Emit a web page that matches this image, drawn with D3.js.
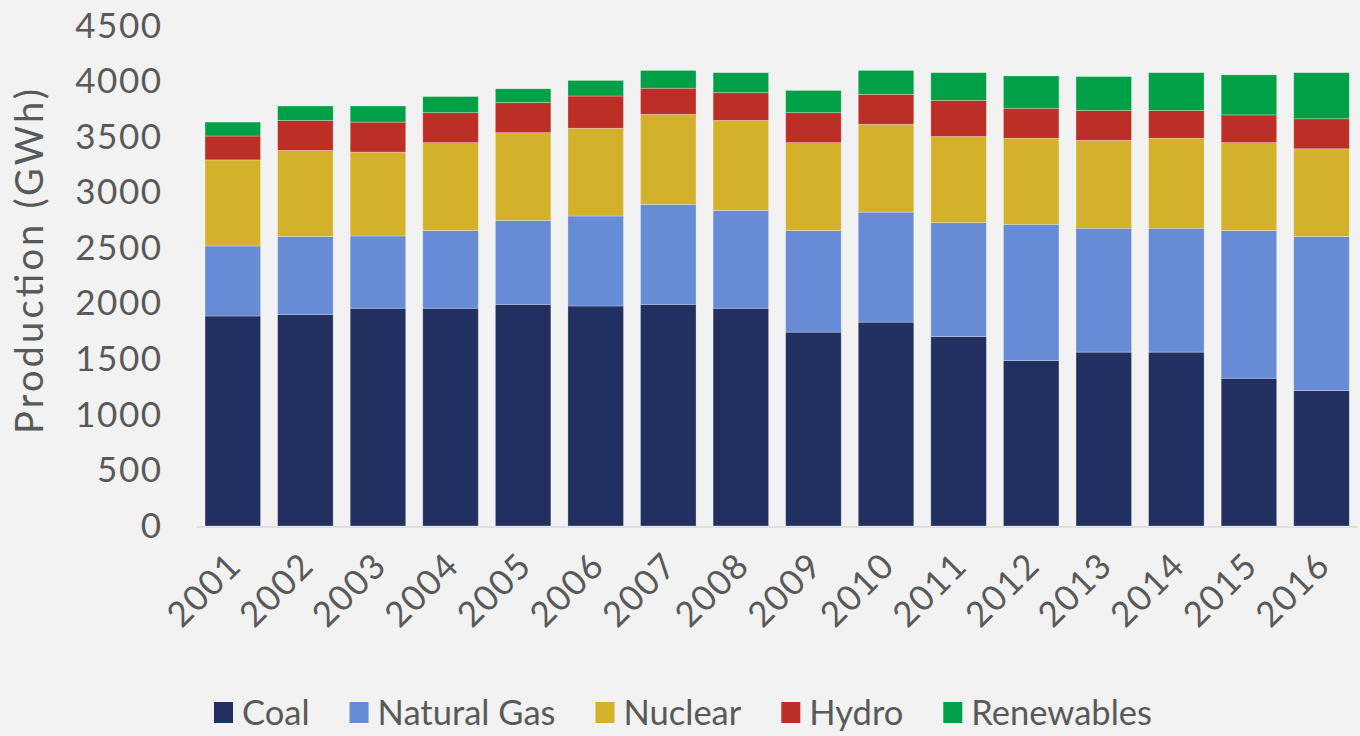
<!DOCTYPE html>
<html>
<head>
<meta charset="utf-8">
<script src="https://cdn.jsdelivr.net/npm/d3@7"></script>
<style>
  html, body { margin: 0; padding: 0; background: #f2f2f2; }
  svg { display: block; font-family: Lato, 'Noto Sans', sans-serif; }
  .tick-label { fill: #595959; font-size: 35px; letter-spacing: 1.5px; }
  .legend-label { fill: #595959; font-size: 34.5px; font-family: Lato, 'Noto Sans', sans-serif; }
</style>
</head>
<body>
<div id="root"></div>
<script>
// Variables
const width = 1360;
const height = 736;
const margin = { top: 26, right: 2, bottom: 210, left: 196.5 };

// Data (GWh)
const years = ['2001', '2002', '2003', '2004', '2005', '2006', '2007', '2008',
  '2009', '2010', '2011', '2012', '2013', '2014', '2015', '2016'];
const coal = [1890, 1905, 1960, 1960, 1995, 1980, 1995, 1960, 1745, 1835, 1705, 1490, 1565, 1565, 1330, 1220];
const naturalGas = [630, 700, 650, 700, 755, 810, 900, 880, 915, 990, 1025, 1225, 1115, 1115, 1330, 1385];
const nuclear = [775, 775, 755, 790, 790, 790, 810, 810, 790, 790, 775, 775, 790, 810, 790, 790];
const hydro = [215, 270, 270, 270, 270, 290, 235, 250, 270, 270, 325, 270, 270, 250, 250, 270];
const renewables = [125, 130, 145, 145, 125, 140, 160, 180, 200, 215, 250, 290, 305, 340, 360, 415];
const seriesNames = ['Coal', 'Natural Gas', 'Nuclear', 'Hydro', 'Renewables'];
const seriesColors = ['#213060', '#678bd5', '#d4b12b', '#bc2f27', '#00a046'];
const yTicks = [0, 500, 1000, 1500, 2000, 2500, 3000, 3500, 4000, 4500];

const table = years.map((year, i) => ({
  year,
  'Coal': coal[i],
  'Natural Gas': naturalGas[i],
  'Nuclear': nuclear[i],
  'Hydro': hydro[i],
  'Renewables': renewables[i]
}));

// Create SVG
const chart = d3.select('#root')
  .append('svg')
  .attr('width', width)
  .attr('height', height);

const plotBottom = height - margin.bottom;
const plotRight = 1357.8;

const x = d3.scaleBand()
  .domain(years)
  .range([margin.left, plotRight])
  .paddingInner(0.235)
  .paddingOuter(0.1175);

const y = d3.scaleLinear()
  .domain([0, 4500])
  .range([plotBottom, margin.top]);

const color = d3.scaleOrdinal()
  .domain(seriesNames)
  .range(seriesColors);

const stacked = d3.stack().keys(seriesNames)(table);

// Baseline
chart.append('line')
  .attr('x1', margin.left)
  .attr('x2', plotRight)
  .attr('y1', plotBottom + 1)
  .attr('y2', plotBottom + 1)
  .attr('stroke', '#d9d9d9')
  .attr('stroke-width', 1.5);

// Bars
chart.append('g')
  .selectAll('g')
  .data(stacked)
  .enter()
    .append('g')
    .attr('fill', d => color(d.key))
    .selectAll('rect')
    .data(d => d)
    .enter()
      .append('rect')
      .attr('x', d => x(d.data.year))
      .attr('width', x.bandwidth())
      .attr('y', d => y(d[1]))
      .attr('height', d => y(d[0]) - y(d[1]))
      .attr('stroke', 'rgba(255,255,255,0.35)')
      .attr('stroke-width', 0.8);

// Y axis
const yAxis = chart.append('g')
  .attr('transform', `translate(${margin.left - 34},0)`)
  .call(d3.axisLeft(y).tickValues(yTicks).tickFormat(d3.format('d')).tickSize(0).tickPadding(0))
  .attr('font-family', null)
  .attr('font-size', null);
yAxis.select('.domain').remove();
yAxis.selectAll('text')
  .attr('class', 'tick-label')
  .attr('fill', null);

chart.append('text')
  .attr('class', 'tick-label')
  .attr('transform', 'translate(43,261.5) rotate(-90)')
  .attr('text-anchor', 'middle')
  .attr('textLength', 345)
  .attr('lengthAdjust', 'spacing')
  .style('font-size', '38px')
  .style('letter-spacing', '0px')
  .text('Production (GWh)');

// X axis labels
chart.append('g')
  .selectAll('text')
  .data(years)
  .enter()
    .append('text')
    .attr('class', 'tick-label')
    .attr('text-anchor', 'end')
    .attr('transform', d => `translate(${x(d) + x.bandwidth() / 2 + 2},${plotBottom + 33}) rotate(-45)`)
    .attr('dy', '0.35em')
    .text(d => d);

// Legend
const legend = chart.append('g')
  .attr('transform', `translate(214,${height - 11})`);
let legendX = 0;
seriesNames.forEach(name => {
  const item = legend.append('g').attr('transform', `translate(${legendX},0)`);
  item.append('rect')
    .attr('x', 0)
    .attr('y', -23)
    .attr('width', 19)
    .attr('height', 21)
    .attr('fill', color(name));
  const label = item.append('text')
    .attr('class', 'legend-label')
    .attr('x', 28)
    .attr('y', 0)
    .text(name);
  legendX += 28 + label.node().getComputedTextLength() + 40;
});
</script>
</body>
</html>
